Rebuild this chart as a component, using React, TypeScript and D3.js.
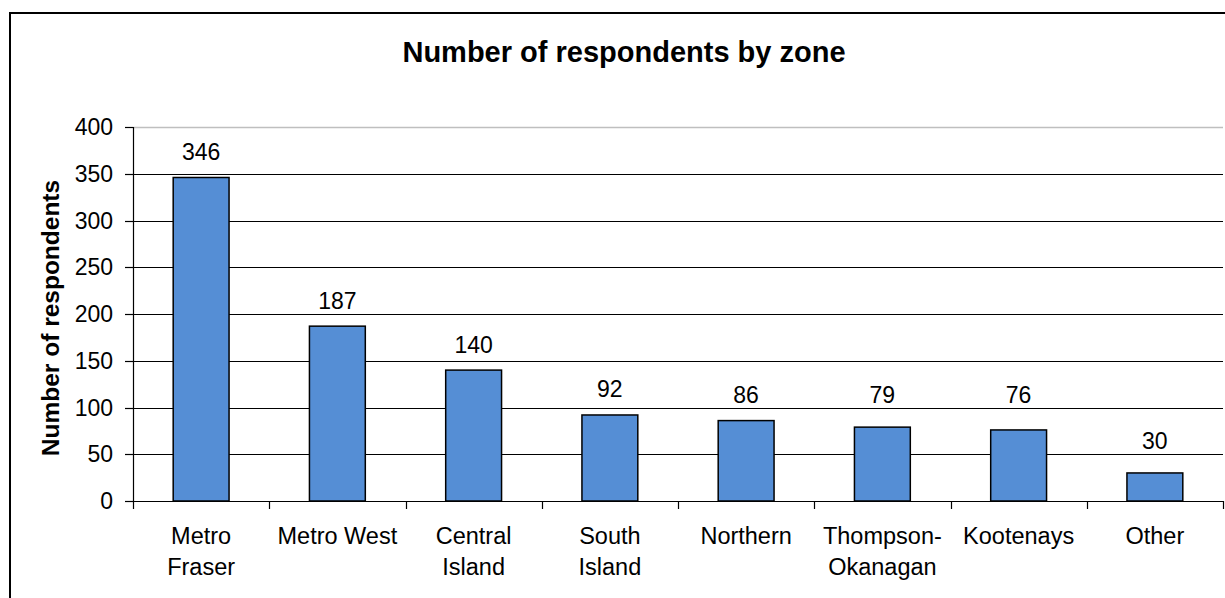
import React from "react";
import * as d3 from "d3";

const categories: string[][] = [
  ["Metro", "Fraser"],
  ["Metro West"],
  ["Central", "Island"],
  ["South", "Island"],
  ["Northern"],
  ["Thompson-", "Okanagan"],
  ["Kootenays"],
  ["Other"],
];
const values: number[] = [346, 187, 140, 92, 86, 79, 76, 30];
const yTicks: number[] = [0, 50, 100, 150, 200, 250, 300, 350, 400];
const title = "Number of respondents by zone";
const yTitle = "Number of respondents";

const W = 1225;
const H = 598;
const left = 133;
const right = 1223;
const top = 127;
const bottom = 501;
const FONT = "'Liberation Sans', Arial, sans-serif";

export default function App() {
  const x = d3
    .scaleBand<number>()
    .domain(categories.map((_, i) => i))
    .range([left, right])
    .paddingInner(0.59)
    .paddingOuter(0.295);
  const band = (right - left) / categories.length;
  const y = d3.scaleLinear().domain([0, 400]).range([bottom, top]);

  const labelY = (v: number) => {
    let base = y(v) - 17.5;
    for (const t of yTicks) {
      const ly = y(t);
      if (ly > base - 16 && ly < base + 5) base = ly - 5;
    }
    return base;
  };

  return (
    <svg
      width={W}
      height={H}
      style={{ position: "absolute", left: 0, top: 0, background: "#fff" }}
      fontFamily={FONT}
    >
      <rect x={0} y={0} width={W} height={H} fill="#fff" />
      <rect x={10} y={13} width={W + 20} height={H + 20} fill="none" stroke="#000" strokeWidth={2} />
      <text x={624} y={62} textAnchor="middle" fontSize={29} fontWeight="bold" fill="#000">
        {title}
      </text>
      {yTicks.map((t) => (
        <line
          key={"g" + t}
          x1={left}
          x2={right}
          y1={Math.round(y(t)) + 0.5}
          y2={Math.round(y(t)) + 0.5}
          stroke={t === 400 ? "#bfbfbf" : "#000"}
          strokeWidth={t === 400 ? 1.5 : 1.2}
        />
      ))}
      {yTicks.map((t) => (
        <g key={"t" + t}>
          <line x1={left - 8} x2={left} y1={Math.round(y(t)) + 0.5} y2={Math.round(y(t)) + 0.5} stroke="#000" strokeWidth={1.2} />
          <text x={113} y={y(t) + 8} textAnchor="end" fontSize={23} fill="#000">
            {t}
          </text>
        </g>
      ))}
      <line x1={left + 0.5} x2={left + 0.5} y1={top} y2={bottom} stroke="#000" strokeWidth={1.2} />
      {d3.range(categories.length + 1).map((i) => (
        <line
          key={"xt" + i}
          x1={Math.round(left + i * band) + 0.5}
          x2={Math.round(left + i * band) + 0.5}
          y1={bottom}
          y2={bottom + 8}
          stroke="#000"
          strokeWidth={1.2}
        />
      ))}
      {values.map((v, i) => (
        <g key={"b" + i}>
          <rect
            x={x(i)!}
            y={y(v)}
            width={x.bandwidth()}
            height={bottom - y(v)}
            fill="#558ED5"
            stroke="#000"
            strokeWidth={1.5}
          />
          <text
            x={x(i)! + x.bandwidth() / 2}
            y={labelY(v)}
            textAnchor="middle"
            fontSize={23}
            fill="#000"
          >
            {v}
          </text>
        </g>
      ))}
      {categories.map((lines, i) =>
        lines.map((ln, j) => (
          <text
            key={"c" + i + "-" + j}
            x={x(i)! + x.bandwidth() / 2}
            y={544 + j * 31}
            textAnchor="middle"
            fontSize={23.5}
            fill="#000"
          >
            {ln}
          </text>
        ))
      )}
      <text
        transform={`translate(59, 318) rotate(-90)`}
        textAnchor="middle"
        fontSize={24.5}
        fontWeight="bold"
        fill="#000"
      >
        {yTitle}
      </text>
    </svg>
  );
}
